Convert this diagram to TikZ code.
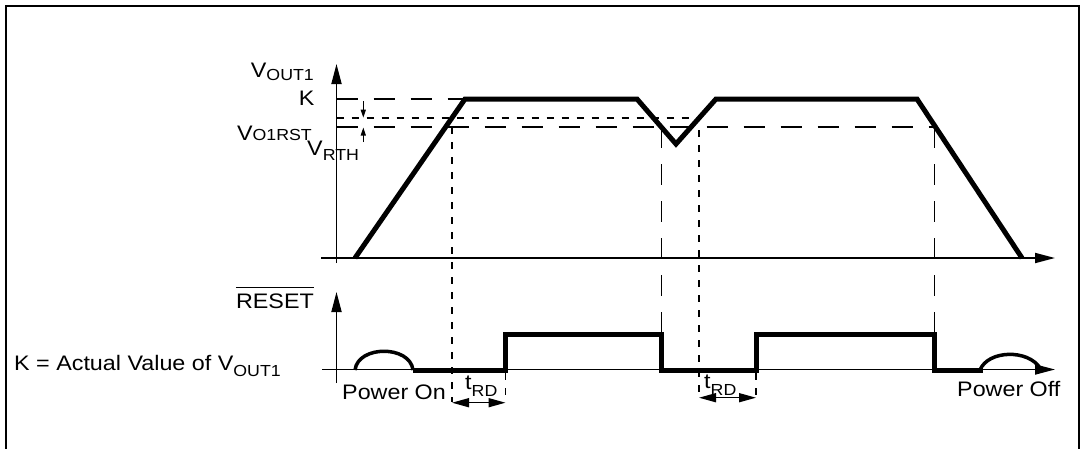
\documentclass[tikz,border=0pt]{standalone}
\usepackage{fontspec}
\usepackage{graphicx}
\setmainfont{Liberation Sans}
\usetikzlibrary{arrows.meta}
\newcommand\subf{\fontsize{16}{16}\selectfont}
\newcommand\lowsub[2]{\raisebox{-#1}{\subf #2}}
\newcommand\wide[1]{\scalebox{1.11}[1]{#1}}
\tikzset{
  lbl/.style={inner sep=0pt, font=\fontsize{21}{21}\selectfont},
  sig/.style={line width=5pt},
  axisline/.style={line width=1.8pt, -{Triangle[length=20pt,width=10pt]}},
  longdash/.style={line width=1.8pt, dash pattern=on 21pt off 16pt},
  shortdash/.style={line width=1.8pt, dash pattern=on 7pt off 8pt},
  tiny/.style={line width=1.2pt, -{Triangle[length=8pt,width=5pt]}},
  tdarrow/.style={line width=1.5pt, {Triangle[length=17pt,width=9pt]}-{Triangle[length=17pt,width=9pt]}},
  arcline/.style={line width=3.5pt},
}
\begin{document}
\begin{tikzpicture}[x=1pt,y=-1pt]
\useasboundingbox (0,0) rectangle (1080,448);
\clip (0,0) rectangle (1080,448);
% frame
\draw[line width=2.5pt] (6.2,470) -- (6.2,5.9) -- (1078.8,5.9) -- (1078.8,470);

% upper axes
\coordinate (ua0) at (336.5,263);
\coordinate (ua1) at (336.5,64);
\coordinate (uh0) at (321,258);
\coordinate (uh1) at (1055,258);
\draw[axisline] (ua0) -- (ua1);
\draw[axisline] (uh0) -- (uh1);

% lower axes
\coordinate (la0) at (336.5,383);
\coordinate (la1) at (336.5,292);
\coordinate (lh0) at (322,369.5);
\coordinate (lh1) at (1055,369.5);
\draw[axisline] (la0) -- (la1);
\draw[axisline] (lh0) -- (lh1);

% reference levels
\draw[longdash] (336.5,99) -- (465,99);
\draw[shortdash] (336.5,117.7) -- (699,117.7);
\draw[longdash] (336.5,127) -- (934.5,127);

% verticals
\draw[shortdash] (452,127) -- (452,402);
\draw[shortdash] (505.5,373) -- (505.5,399);
\draw[shortdash] (699,130) -- (699,398);
\draw[shortdash] (756,373) -- (756,398);
\draw[longdash] (661.5,127) -- (661.5,334);
\draw[longdash] (934.5,127) -- (934.5,334);

% V_OUT1 signal
\draw[sig] (355,258) -- (465,99) -- (637,99) -- (676,144) -- (716,99) -- (917,99) -- (1022,258);

% RESET signal
\draw[sig] (413,370.5) -- (505.5,370.5) -- (505.5,334) -- (661.5,334) -- (661.5,370.5)
  -- (756,370.5) -- (756,334) -- (934.5,334) -- (934.5,370.5) -- (983,370.5);

% power arcs
\draw[arcline] (355,370) .. controls (358,345) and (410,345) .. (413,370);
\draw[arcline] (980,370) .. controls (988,350) and (1028,349) .. (1040,368);

% V_RTH small arrows
\draw[tiny] (363.3,101) -- (363.3,117.7);
\draw[tiny] (363.3,142) -- (363.3,127.5);

% tRD arrows
\draw[tdarrow] (452,402.7) -- (505.5,402.7);
\draw[tdarrow] (699,397.7) -- (756,397.7);

% labels
\node[lbl, anchor=base east] (vout) at (314,77) {\wide{V\lowsub{3pt}{OUT1}}};
\node[lbl, anchor=base east] (k) at (314.5,105) {\wide{K}};
\node[lbl, anchor=base east] (vrst) at (312,140) {\wide{V\lowsub{0pt}{O1RST}}};
\node[lbl, anchor=base west] (vrth) at (307,155) {\wide{V\lowsub{5pt}{RTH}}};
\node[lbl, anchor=base east] (reset) at (314,308.3) {\wide{RESET}};
\draw[line width=1.5pt] ([yshift=6pt]reset.north west) -- ([yshift=6pt]reset.north east);
\node[lbl, anchor=base west] (kdef) at (14,370) {\wide{K = Actual Value of V\lowsub{6pt}{OUT1}}};
\node[lbl, anchor=base west] (pon) at (342,399) {\wide{Power On}};
\node[lbl, anchor=base west] (poff) at (957,396) {\wide{Power Off}};
\node[lbl, anchor=base west] (t1) at (465,389) {\wide{t\lowsub{7.5pt}{RD}}};
\node[lbl, anchor=base west] (t2) at (704,388) {\wide{t\lowsub{7.5pt}{RD}}};
\end{tikzpicture}
\end{document}
